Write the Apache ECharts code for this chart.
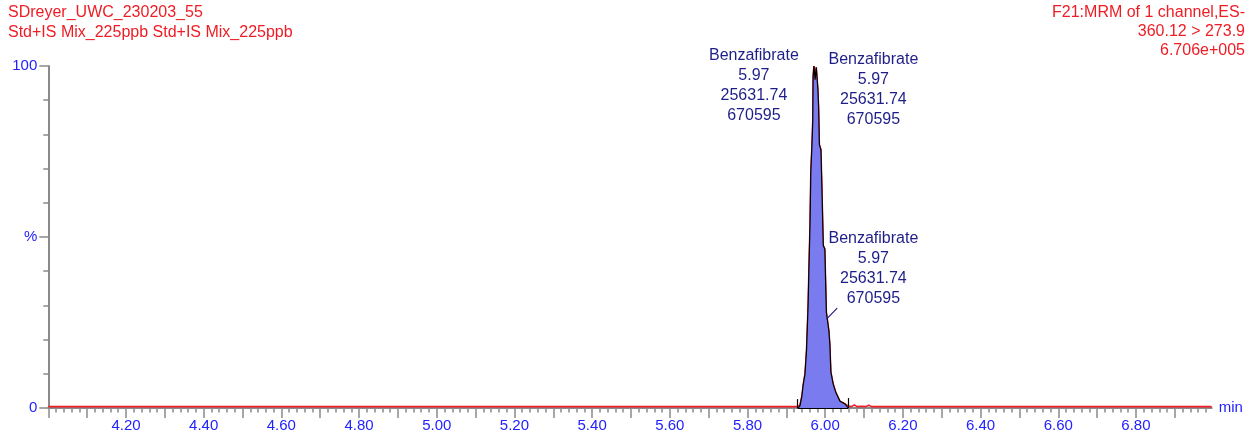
<!DOCTYPE html>
<html>
<head>
<meta charset="utf-8">
<script src="https://cdn.jsdelivr.net/npm/echarts@6/dist/echarts.min.js"></script>
<style>
  html, body { margin: 0; padding: 0; background: #ffffff; }
  #chart { width: 1260px; height: 441px; }
</style>
</head>
<body>
<div id="chart"></div>
<script>
// Chromatogram header text
const headerLeft = ['SDreyer_UWC_230203_55', 'Std+IS Mix_225ppb Std+IS Mix_225ppb'];
const headerRight = ['F21:MRM of 1 channel,ES-', '360.12 > 273.9', '6.706e+005'];

// Peak annotation values
const compoundName = 'Benzafibrate';
const retentionTime = '5.97';
const peakArea = '25631.74';
const peakHeight = '670595';

// Raw MRM trace (time in min, relative intensity in %)
const traceTime = [4.00, 4.50, 5.00, 5.50, 5.80, 5.925,
  5.930, 5.935, 5.940, 5.943, 5.948, 5.952, 5.956, 5.958, 5.961, 5.963, 5.966, 5.968,
  5.969, 5.971, 5.974, 5.977, 5.981, 5.983, 5.985, 5.989, 5.992, 5.995, 5.999, 6.003,
  6.006, 6.0095, 6.012, 6.0146, 6.0206, 6.0275, 6.038, 6.051, 6.059,
  6.063, 6.068, 6.075, 6.082, 6.095, 6.105, 6.112, 6.120, 6.300, 6.600, 6.995];
const tracePct = [0.4, 0.4, 0.4, 0.4, 0.4, 0.4,
  0.4, 0.8, 3.5, 6.5, 10.0, 17.0, 30.0, 40.0, 54.0, 69.0, 77.0, 84.0,
  97.0, 100.0, 96.0, 99.6, 93.5, 88.0, 77.0, 75.5, 62.0, 47.5, 46.5, 28.0,
  25.5, 22.5, 18.5, 10.5, 7.0, 4.5, 2.0, 1.2, 0.6,
  1.0, 0.4, 0.9, 0.4, 0.5, 0.4, 0.8, 0.4, 0.4, 0.4, 0.4];

// Integrated peak region
const peakTime = [5.930, 5.935, 5.940, 5.943, 5.948, 5.952, 5.956, 5.958, 5.961, 5.963,
  5.966, 5.968, 5.969, 5.971, 5.974, 5.977, 5.981, 5.983, 5.985, 5.989, 5.992, 5.995,
  5.999, 6.003, 6.006, 6.0095, 6.012, 6.0146, 6.0206, 6.0275, 6.038, 6.051, 6.059];
const peakPct = [0.0, 0.6, 3.5, 6.5, 10.0, 17.0, 30.0, 40.0, 54.0, 69.0,
  77.0, 84.0, 97.0, 100.0, 96.0, 99.6, 93.5, 88.0, 77.0, 75.5, 62.0, 47.5,
  46.5, 28.0, 25.5, 22.5, 18.5, 10.5, 7.0, 4.5, 2.0, 1.2, 0.0];

// Integration limits (start / end of the peak, tick height in %)
const integStart = [5.929, 2.6];
const integEnd = [6.059, 2.9];

// Axis ticks and labels
const xMajorTicks = [4.0, 4.1, 4.2, 4.3, 4.4, 4.5, 4.6, 4.7, 4.8, 4.9, 5.0, 5.1, 5.2, 5.3,
  5.4, 5.5, 5.6, 5.7, 5.8, 5.9, 6.0, 6.1, 6.2, 6.3, 6.4, 6.5, 6.6, 6.7, 6.8, 6.9];
const xLabelValues = [4.2, 4.4, 4.6, 4.8, 5.0, 5.2, 5.4, 5.6, 5.8, 6.0, 6.2, 6.4, 6.6, 6.8];
const yLabels = { 0: '0', 50: '%', 100: '100' };

// Annotation anchor points [time, %] and leader segments
const annotAnchors = [[5.8165, 94.4], [6.1241, 93.1], [6.1241, 40.8]];
const leaderSegments = [
  [[5.9408, 100.3], [5.9676, 100.3]],
  [[5.9805, 100.3], [6.0054, 100.3]],
  [[6.0309, 29.2], [6.0033, 26.0]]
];

const FONT = '"Liberation Sans", Arial, sans-serif';
const RED = '#ee1c24';
const BLUE = '#2222ff';
const NAVY = '#1e1e88';
const GREY = '#8a8a8a';

const zip = (a, b) => a.map((v, i) => [v, b[i]]);
const annotText = [compoundName, retentionTime, peakArea, peakHeight].join('\n');

const chart = echarts.init(document.getElementById('chart'), null, { renderer: 'canvas' });

chart.setOption({
  animation: false,
  backgroundColor: '#ffffff',
  textStyle: { fontFamily: FONT },
  title: [
    {
      text: headerLeft.join('\n'),
      left: 8, top: 2,
      padding: 0,
      textStyle: { color: RED, fontSize: 16, fontWeight: 'normal', fontFamily: FONT, lineHeight: 20.5 }
    },
    {
      text: headerRight.join('\n'),
      right: 'right', top: 3,
      padding: [0, 15, 0, 0],
      textStyle: { color: RED, fontSize: 16, fontWeight: 'normal', fontFamily: FONT, lineHeight: 19 }
    }
  ],
  grid: { left: 48.3, right: 48.3, top: 66, bottom: 33, containLabel: false },
  xAxis: {
    type: 'value',
    min: 4.0,
    max: 6.995,
    interval: 0.1,
    name: 'min',
    nameLocation: 'end',
    nameGap: 7,
    nameTextStyle: { color: BLUE, fontSize: 15, fontFamily: FONT, verticalAlign: 'middle', padding: [2, 0, 0, 0] },
    axisLine: { show: true, onZero: false, lineStyle: { color: GREY, width: 2 } },
    axisTick: { show: true, length: 10, customValues: xMajorTicks, lineStyle: { color: GREY, width: 1.5 } },
    minorTick: { show: true, splitNumber: 5, length: 4.5, lineStyle: { color: GREY, width: 1.5 } },
    axisLabel: {
      customValues: xLabelValues,
      color: BLUE, fontSize: 15, fontFamily: FONT, margin: 10,
      formatter: v => v.toFixed(2)
    },
    splitLine: { show: false },
    minorSplitLine: { show: false }
  },
  yAxis: {
    type: 'value',
    min: 0,
    max: 100,
    interval: 50,
    axisLine: { show: true, lineStyle: { color: GREY, width: 2 } },
    axisTick: { show: true, length: 9, lineStyle: { color: GREY, width: 1.5 } },
    minorTick: { show: true, splitNumber: 5, length: 5, lineStyle: { color: GREY, width: 1.5 } },
    axisLabel: {
      color: BLUE, fontSize: 15, fontFamily: FONT, margin: 11,
      formatter: v => yLabels[v] !== undefined ? yLabels[v] : ''
    },
    splitLine: { show: false },
    minorSplitLine: { show: false }
  },
  series: [
    {
      name: 'trace',
      type: 'line',
      data: zip(traceTime, tracePct),
      showSymbol: false,
      symbol: 'none',
      lineStyle: { color: RED, width: 1.6 },
      z: 2
    },
    {
      name: 'peak',
      type: 'line',
      data: zip(peakTime, peakPct),
      showSymbol: false,
      symbol: 'none',
      clip: false,
      lineStyle: { color: '#000000', width: 1.2 },
      areaStyle: { color: '#7b7bf0', opacity: 1 },
      z: 3,
      markLine: {
        silent: true,
        symbol: ['none', 'none'],
        label: { show: false },
        lineStyle: { color: '#000000', width: 1.2, type: 'solid' },
        data: [
          [{ coord: [integStart[0], 0] }, { coord: [integEnd[0], 0] }],
          [{ coord: [integStart[0], 0] }, { coord: [integStart[0], integStart[1]] }],
          [{ coord: [integEnd[0], 0] }, { coord: [integEnd[0], integEnd[1]] }]
        ]
      }
    },
    {
      name: 'annotations',
      type: 'line',
      data: [],
      clip: false,
      z: 4,
      markLine: {
        silent: true,
        symbol: ['none', 'none'],
        label: { show: false },
        lineStyle: { color: NAVY, width: 1.2, type: 'solid' },
        data: leaderSegments.map(s => [{ coord: s[0] }, { coord: s[1] }])
      },
      markPoint: {
        silent: true,
        symbol: 'rect',
        symbolSize: 0,
        data: annotAnchors.map(c => ({ coord: c })),
        label: {
          show: true,
          position: 'inside',
          formatter: () => annotText,
          color: NAVY,
          fontSize: 16,
          fontFamily: FONT,
          lineHeight: 20,
          align: 'center',
          verticalAlign: 'middle'
        }
      }
    }
  ]
});
</script>
</body>
</html>
